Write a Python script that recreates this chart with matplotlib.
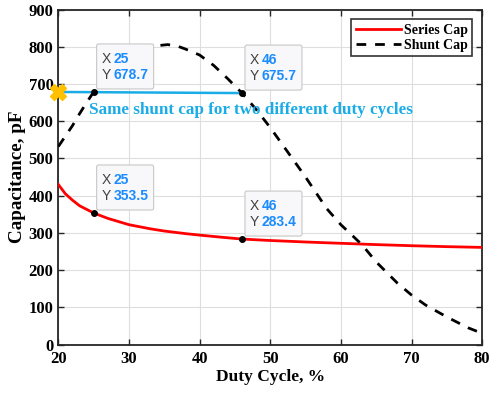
import matplotlib.pyplot as plt
import matplotlib.transforms as mtransforms
from matplotlib.patches import FancyBboxPatch

# Duty cycle (%) and capacitance (pF) for the two matching caps
duty_series = [20, 21, 22, 23, 25, 27, 30, 33, 35, 38, 40, 43, 46, 50, 55, 60, 65, 70, 75, 80]
series_cap = [430, 405, 388, 373, 353.5, 339, 322, 311, 305, 298, 294, 288.5, 283.4,
              279.5, 275.5, 272, 268.5, 265.5, 263, 261]

duty_shunt = [20, 21, 22, 23, 24, 25, 26, 28, 30, 32, 34, 35.5, 37, 38, 40, 42, 44, 46,
              48, 50, 52, 55, 58, 60, 63, 65, 68, 70, 72, 75, 78, 80]
shunt_cap = [532, 560, 588, 620, 650, 678.7, 705, 745, 772, 792, 803, 806, 801, 794, 778,
             750, 714, 675.7, 632, 583, 530, 450, 365, 322, 268, 222, 165, 133, 106, 74, 45, 30]

# data tips shown on the plot: (duty, cap)
tips = [(25, 678.7), (46, 675.7), (25, 353.5), (46, 283.4)]
same_cap = (20, 46, 678.7, 675.7)

plt.rcParams['font.family'] = ['Liberation Serif', 'DejaVu Serif']
plt.rcParams['font.weight'] = 'bold'

fig = plt.figure(figsize=(4.9, 3.94), dpi=100)
ax = fig.add_axes([0.119, 0.1256, 0.865, 0.85])

ax.plot(duty_series, series_cap, color='#ff0000', lw=2, label='Series Cap', zorder=3)
ax.plot(duty_shunt, shunt_cap, color='black', lw=2, ls=(0, (3.5, 3.2)), label='Shunt Cap', zorder=3)

# horizontal line marking the same shunt capacitance
cyan = '#1aace6'
ax.plot([same_cap[0], same_cap[1]], [same_cap[2], same_cap[3]], color=cyan, lw=1.8, zorder=4)
ax.plot(same_cap[0], same_cap[2], marker='X', ms=11, color='#ffc000', mec='#ffc000',
        clip_on=False, zorder=6)
ax.text(24.3, 631, 'Same shunt cap for two different duty cycles', color=cyan,
        fontsize=12.3, fontweight='bold', va='center', ha='left', zorder=5)

# data tips
for x, y in tips:
    ax.plot(x, y, 'o', color='black', ms=4, zorder=7)
    tr = mtransforms.Affine2D() + mtransforms.ScaledTranslation(x, y, ax.transData)
    box = FancyBboxPatch((3, 3), 57, 45, boxstyle='round,pad=0,rounding_size=2',
                         transform=tr, facecolor='#f8f8fa', edgecolor='#c8c8c8', lw=0.8,
                         zorder=8, clip_on=False)
    ax.add_patch(box)
    ax.text(8, 33, 'X', transform=tr, color='#404040', fontsize=10,
            family='Liberation Sans', fontweight='normal', va='center', zorder=9)
    ax.text(8, 17, 'Y', transform=tr, color='#404040', fontsize=10,
            family='Liberation Sans', fontweight='normal', va='center', zorder=9)
    ax.text(20, 33, f'{x:g}', transform=tr, color='#1a8cff', fontsize=10,
            family='Liberation Sans', fontweight='bold', va='center', zorder=9)
    ax.text(20, 17, f'{y:.1f}', transform=tr, color='#1a8cff', fontsize=10,
            family='Liberation Sans', fontweight='bold', va='center', zorder=9)

ax.set_xlim(20, 80)
ax.set_ylim(0, 900)
ax.set_xticks(range(20, 81, 10))
ax.set_yticks(range(0, 901, 100))
ax.grid(True, color='#dedede', lw=0.8)
ax.set_axisbelow(True)
ax.tick_params(direction='in', length=4, width=1, labelsize=12, top=True, right=True,
               color='#262626')
ax.tick_params(axis='x', pad=5)
for s in ax.spines.values():
    s.set_linewidth(1.3)
    s.set_color('#262626')

ax.set_xlabel('Duty Cycle, %', fontsize=12.5, fontweight='bold', labelpad=1)
ax.set_ylabel('Capacitance, pF', fontsize=13.8, fontweight='bold', labelpad=2)

leg = ax.legend(loc='upper right', fontsize=10, frameon=True, fancybox=False,
                handlelength=3.3, handletextpad=0.2, borderpad=0.3, labelspacing=0.2,
                borderaxespad=0.7)
leg.get_frame().set_edgecolor('black')
leg.get_frame().set_linewidth(1.2)

fig.savefig('out.png', dpi=100)
